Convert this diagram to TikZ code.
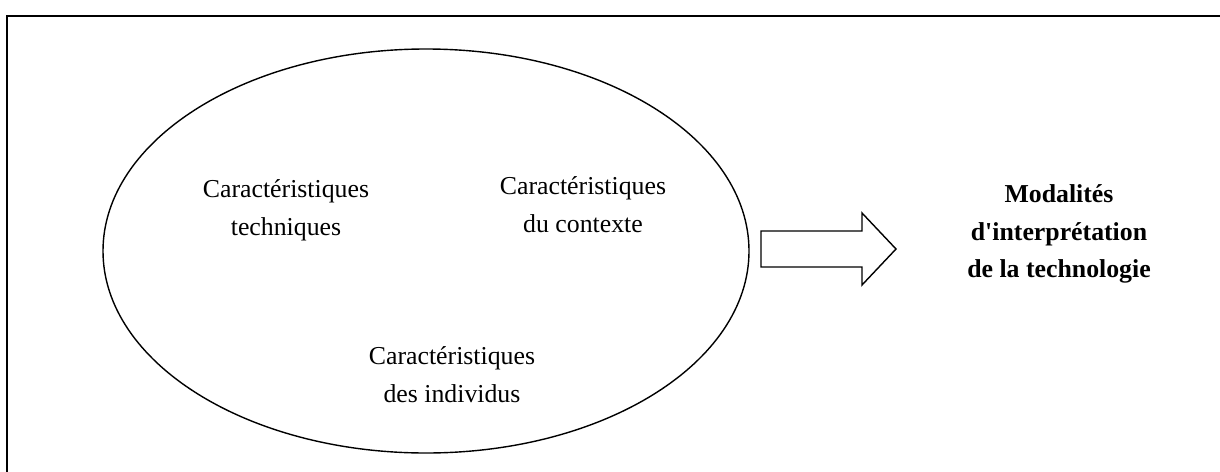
\documentclass[tikz,border=0pt]{standalone}
\usepackage{fontspec}
\setmainfont{Liberation Serif}
\begin{document}
\begin{tikzpicture}[x=1pt,y=-1pt,
  lbl/.style={align=center,inner sep=0pt,font=\fontsize{25.8}{38}\selectfont},
  blbl/.style={lbl,font=\fontsize{25.8}{37.5}\selectfont\bfseries},
  frameline/.style={line width=2pt},
  shapeline/.style={line width=1.4pt}]
\useasboundingbox (0,0) rectangle (1220,471);
% frame (top and left edges)
\draw[frameline] (7,472) -- (7,16) -- (1221,16);
% ellipse
\draw[shapeline] (426,251) ellipse [x radius=323, y radius=202];
% texts
\node[lbl] (tech) at (286,210) {Caractéristiques\\techniques};
\node[lbl] (ctx) at (583,205) {Caractéristiques\\du contexte};
\node[lbl] (ind) at (452,375) {Caractéristiques\\des individus};
\node[blbl] (mod) at (1059,234) {Modalités\\d\textquotesingle interprétation\\de la technologie};
% block arrow
\coordinate (a1) at (761,231);
\coordinate (a2) at (862,231);
\coordinate (a3) at (862,213);
\coordinate (tip) at (896,249);
\coordinate (a5) at (862,285);
\coordinate (a6) at (862,267);
\coordinate (a7) at (761,267);
\draw[shapeline,line join=miter] (a1) -- (a2) -- (a3) -- (tip) -- (a5) -- (a6) -- (a7) -- cycle;
\end{tikzpicture}
\end{document}
